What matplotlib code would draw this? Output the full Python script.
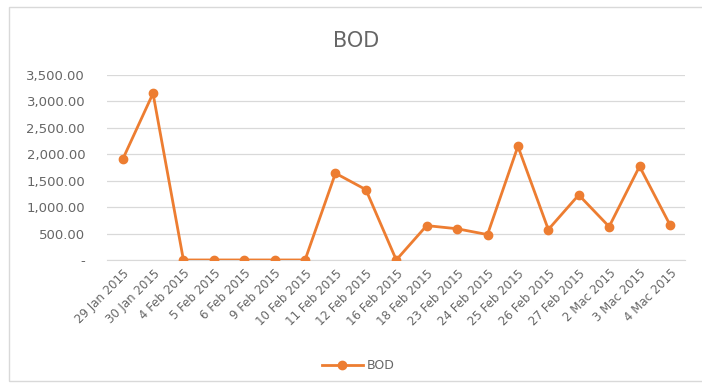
import matplotlib
matplotlib.use("Agg")
import matplotlib.pyplot as plt
from matplotlib.patches import Rectangle
from matplotlib.ticker import FuncFormatter, MultipleLocator

dates = ["29 Jan 2015", "30 Jan 2015", "4 Feb 2015", "5 Feb 2015", "6 Feb 2015",
         "9 Feb 2015", "10 Feb 2015", "11 Feb 2015", "12 Feb 2015", "16 Feb 2015",
         "18 Feb 2015", "23 Feb 2015", "24 Feb 2015", "25 Feb 2015", "26 Feb 2015",
         "27 Feb 2015", "2 Mac 2015", "3 Mac 2015", "4 Mac 2015"]
bod = [1900, 3150, 0, 0, 0, 0, 0, 1640, 1330, 0,
       650, 590, 480, 2150, 575, 1230, 630, 1770, 665]

orange = "#ED7D31"
text_gray = "#666666"
grid_gray = "#D9D9D9"

fig = plt.figure(figsize=(7.02, 3.88), dpi=100)
fig.patch.set_facecolor("white")

# chart-area frame
fig.add_artist(Rectangle((9 / 702, 7 / 388), 700 / 702, 374 / 388,
                         transform=fig.transFigure, fill=False,
                         edgecolor="#D9D9D9", linewidth=1.0))

ax = fig.add_axes([0.153, 0.330, 0.823, 0.477])
x = list(range(len(dates)))
ax.plot(x, bod, color=orange, linewidth=2.0, marker="o", markersize=6,
        label="BOD", zorder=3)

ax.set_xlim(-0.5, len(dates) - 0.5)
ax.set_ylim(0, 3500)
ax.yaxis.set_major_locator(MultipleLocator(500))
ax.yaxis.set_major_formatter(FuncFormatter(
    lambda v, p: "-" if abs(v) < 1e-9 else f"{v:,.2f}"))
ax.grid(axis="y", color=grid_gray, linewidth=0.9)
ax.set_axisbelow(True)
for s in ["top", "right", "left"]:
    ax.spines[s].set_visible(False)
ax.spines["bottom"].set_color(grid_gray)

ax.set_xticks(x)
ax.set_xticklabels(dates, rotation=45, ha="right", rotation_mode="anchor")
ax.tick_params(axis="both", length=0, colors=text_gray)
ax.tick_params(axis="x", pad=5, labelsize=8.5)
ax.tick_params(axis="y", pad=16, labelsize=9.5)

fig.text(0.508, 0.895, "BOD", ha="center", va="center", fontsize=15,
         color=text_gray)

fig.legend(handles=ax.get_lines(), labels=["BOD"], loc="center",
           bbox_to_anchor=(0.51, 0.058), frameon=False, fontsize=9,
           labelcolor=text_gray, handlelength=3.3, handletextpad=0.3)

fig.savefig("out.png", dpi=100, facecolor="white")
